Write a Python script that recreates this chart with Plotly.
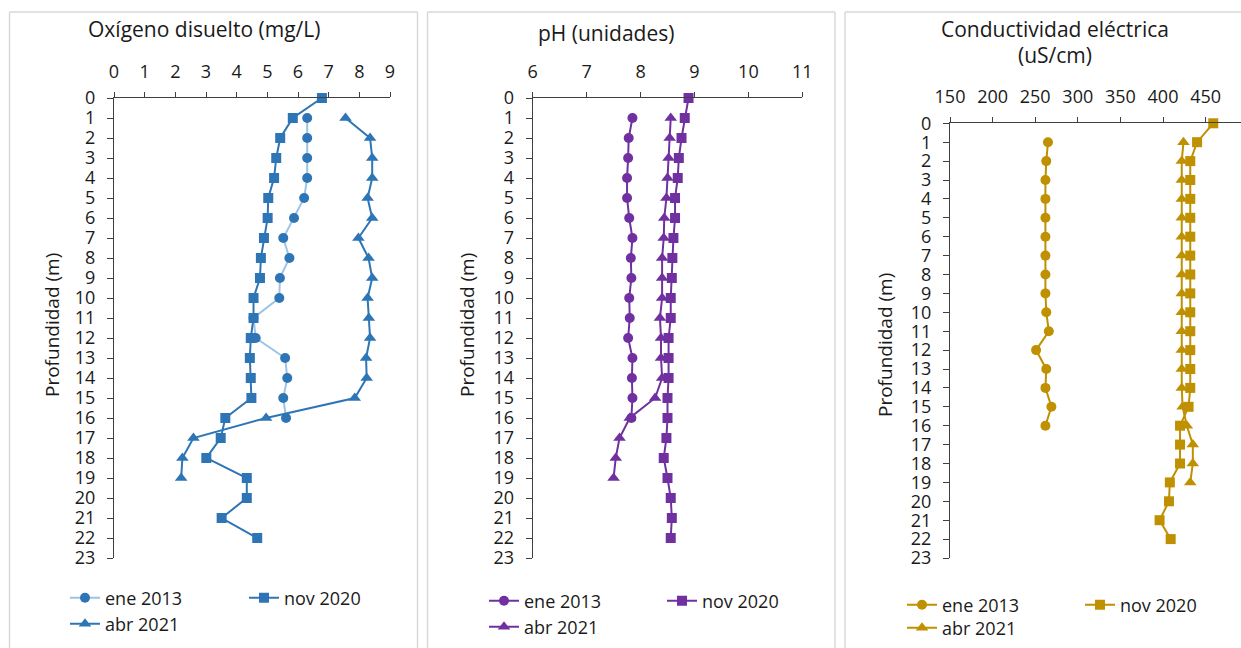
import plotly.graph_objects as go

# Depth profiles (m)
depth_2013 = list(range(1, 17))
depth_2020 = list(range(0, 23))
depth_2021 = list(range(1, 20))

# Dissolved oxygen (mg/L)
od_2013 = [6.30, 6.30, 6.30, 6.30, 6.20, 5.87, 5.52, 5.72, 5.41, 5.39, 4.55, 4.62, 5.58, 5.65, 5.52, 5.61]
od_2020 = [6.78, 5.83, 5.42, 5.29, 5.22, 5.03, 5.01, 4.89, 4.79, 4.76, 4.55, 4.55, 4.46, 4.43, 4.46, 4.48,
           3.63, 3.48, 3.01, 4.33, 4.33, 3.51, 4.67]
od_2021 = [7.55, 8.35, 8.42, 8.42, 8.27, 8.42, 7.97, 8.30, 8.42, 8.27, 8.31, 8.35, 8.22, 8.24, 7.85, 4.96,
           2.59, 2.23, 2.19]

# pH (units)
ph_2013 = [7.85, 7.78, 7.77, 7.75, 7.75, 7.79, 7.85, 7.82, 7.83, 7.79, 7.80, 7.77, 7.85, 7.84, 7.85, 7.83]
ph_2020 = [8.89, 8.82, 8.76, 8.71, 8.69, 8.64, 8.64, 8.61, 8.59, 8.58, 8.56, 8.56, 8.52, 8.52, 8.52, 8.50,
           8.50, 8.48, 8.43, 8.50, 8.56, 8.58, 8.56]
ph_2021 = [8.56, 8.54, 8.52, 8.50, 8.48, 8.44, 8.43, 8.40, 8.40, 8.40, 8.36, 8.38, 8.38, 8.40, 8.27, 7.80,
           7.61, 7.54, 7.50]

# Electrical conductivity (uS/cm)
ce_2013 = [265, 263, 262, 262, 262, 262, 262, 262, 262, 263, 266, 251, 263, 262, 269, 262]
ce_2020 = [459, 440, 432, 432, 432, 432, 432, 432, 432, 432, 432, 432, 432, 432, 432, 430,
           420, 420, 420, 408, 407, 396, 409]
ce_2021 = [424, 422, 422, 422, 422, 422, 422, 422, 422, 422, 422, 422, 422, 422, 423, 428,
           435, 435, 432]

series_names = ["ene 2013", "nov 2020", "abr 2021"]
depth_ticks = list(range(0, 24))

W, H = 1241, 648
FONT = "Open Sans"
AXIS_COLOR = "#404040"
TEXT_COLOR = "#1a1a1a"

def px_x(p):
    return p / W

def px_y(p):
    return 1 - p / H

fig = go.Figure()

ce_right = W
panels = [
    dict(vals=(od_2013, od_2020, od_2021), colors=("#9DC3E6", "#2E75B6", "#2E75B6"),
         mcolor="#2E75B6", xr=[0, 9], dtick=1, xdom=(114, 390), ytop=98,
         title=["Oxígeno disuelto (mg/L)"], tx=204, ty=[29],
         ylab_x=52, ylab_y=325, leg_x=(68, 247), leg_y=(598, 624)),
    dict(vals=(ph_2013, ph_2020, ph_2021), colors=("#7030A0", "#7030A0", "#7030A0"),
         mcolor="#7030A0", xr=[6, 11], dtick=1, xdom=(532.7, 802.3), ytop=98,
         title=["pH (unidades)"], tx=606, ty=[33],
         ylab_x=467, ylab_y=325, leg_x=(487, 665), leg_y=(601, 627)),
    dict(vals=(ce_2013, ce_2020, ce_2021), colors=("#BF9000", "#BF9000", "#BF9000"),
         mcolor="#BF9000", xr=[150, 150 + (ce_right - 950) / 0.852], dtick=50, xdom=(950, ce_right),
         ytop=123.3, title=["Conductividad eléctrica", "(uS/cm)"], tx=1055, ty=[29, 55],
         ylab_x=885, ylab_y=345, leg_x=(905, 1083), leg_y=(605, 628)),
]

symbols = ["circle", "square", "triangle-up"]
msizes = [10, 10, 11]
depths = [depth_2013, depth_2020, depth_2021]

legend_layout = {}
annotations = []
shapes = []
leg_idx = 2

for i, p in enumerate(panels):
    sfx = "" if i == 0 else str(i + 1)
    xa = "x" + sfx
    ya = "y" + sfx
    for j in range(3):
        lname = f"legend{leg_idx}"
        fig.add_trace(go.Scatter(
            x=p["vals"][j], y=depths[j], mode="lines+markers", name=series_names[j],
            line=dict(color=p["colors"][j], width=2),
            marker=dict(symbol=symbols[j], size=msizes[j], color=p["mcolor"]),
            xaxis=xa, yaxis=ya, cliponaxis=False, legend=lname,
        ))
        lx = p["leg_x"][0] if j != 1 else p["leg_x"][1]
        ly = p["leg_y"][0] if j != 2 else p["leg_y"][1]
        # legend box carries some inner padding; offset so the swatch lands on (lx, ly)
        legend_layout[lname] = dict(
            x=px_x(lx - 3), y=px_y(ly), xanchor="left", yanchor="middle",
            bgcolor="rgba(0,0,0,0)", font=dict(family=FONT, size=18, color=TEXT_COLOR),
            itemwidth=30, tracegroupgap=0,
        )
        leg_idx += 1

    x_range = p["xr"]
    fig.update_layout(**{
        ("xaxis" if i == 0 else f"xaxis{i + 1}"): dict(
            domain=[px_x(p["xdom"][0]), px_x(p["xdom"][1])], range=x_range,
            side="top", anchor=ya, dtick=p["dtick"], tick0=x_range[0], automargin=False,
            showline=True, linecolor=AXIS_COLOR, linewidth=1,
            ticks="outside", ticklen=5, tickcolor=AXIS_COLOR, ticklabelstandoff=7,
            showgrid=False, zeroline=False,
            tickfont=dict(family=FONT, size=18, color=TEXT_COLOR),
        ),
        ("yaxis" if i == 0 else f"yaxis{i + 1}"): dict(
            domain=[px_y(558), px_y(p["ytop"])], range=[23, 0],
            anchor=xa, tickvals=depth_ticks, automargin=False,
            showline=True, linecolor=AXIS_COLOR, linewidth=1,
            ticks="outside", ticklen=6, tickcolor=AXIS_COLOR, ticklabelstandoff=8,
            showgrid=False, zeroline=False,
            tickfont=dict(family=FONT, size=18, color=TEXT_COLOR),
        ),
    })

    for line_txt, yy in zip(p["title"], p["ty"]):
        annotations.append(dict(
            text=line_txt, x=px_x(p["tx"]), y=px_y(yy), xref="paper", yref="paper",
            showarrow=False, xanchor="center", yanchor="middle",
            font=dict(family=FONT, size=21, color=TEXT_COLOR),
        ))
    annotations.append(dict(
        text="Profundidad (m)", x=px_x(p["ylab_x"]), y=px_y(p["ylab_y"]), xref="paper", yref="paper",
        showarrow=False, xanchor="center", yanchor="middle", textangle=-90,
        font=dict(family=FONT, size=19, color=TEXT_COLOR),
    ))

# panel frames (open at the bottom; the last one runs off the right edge)
frame = dict(color="#D9D9D9", width=1.5)
for x0, x1 in [(9.5, 417.5), (427.5, 835), (845, None)]:
    right = ce_right if x1 is None else x1
    shapes.append(dict(type="line", xref="paper", yref="paper",
                       x0=px_x(x0), x1=px_x(right), y0=px_y(12), y1=px_y(12), line=frame, layer="below"))
    shapes.append(dict(type="line", xref="paper", yref="paper",
                       x0=px_x(x0), x1=px_x(x0), y0=px_y(12), y1=0, line=frame, layer="below"))
    if x1 is not None:
        shapes.append(dict(type="line", xref="paper", yref="paper",
                           x0=px_x(x1), x1=px_x(x1), y0=px_y(12), y1=0, line=frame, layer="below"))

fig.update_layout(
    width=W, height=H, margin=dict(l=0, r=0, t=0, b=0, autoexpand=False),
    paper_bgcolor="white", plot_bgcolor="rgba(0,0,0,0)", showlegend=True,
    annotations=annotations, shapes=shapes, **legend_layout,
)

fig.write_html("out.html")
